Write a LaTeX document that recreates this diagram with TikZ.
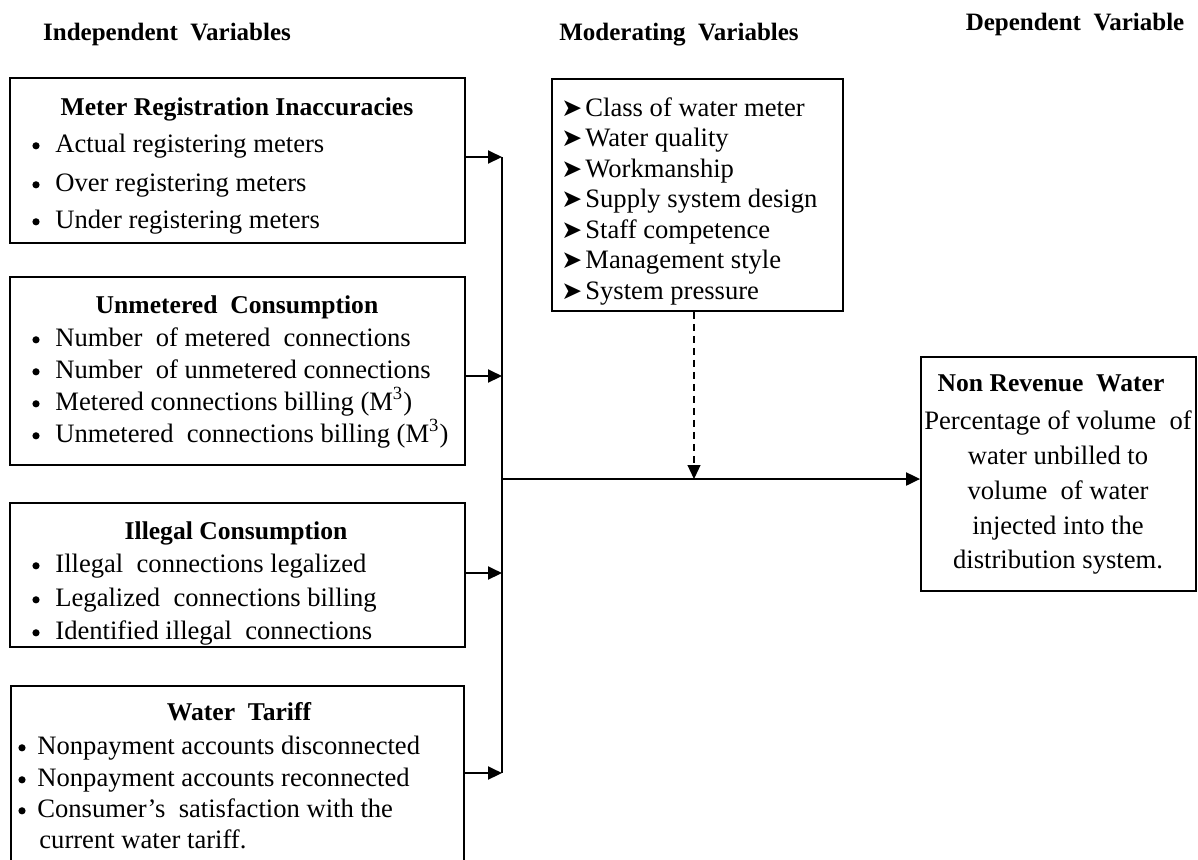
\documentclass[tikz,border=0pt]{standalone}
\usepackage{fontspec}
\setmainfont{Liberation Serif}
\newfontfamily\symfont{DejaVu Sans}
\usetikzlibrary{arrows.meta}
\tikzset{
  box/.style={draw, line width=0.9pt, inner sep=0pt},
  head/.style={font=\fontsize{12.5}{15}\selectfont\bfseries, inner sep=0pt, text height=8.5pt, text depth=0pt},
  ttl/.style={font=\fontsize{12.8}{15}\selectfont\bfseries, inner sep=0pt, text height=8.7pt, text depth=0pt},
  txt/.style={font=\fontsize{13.3}{16}\selectfont, inner sep=0pt, anchor=west, text height=9pt, text depth=0pt},
  ctxt/.style={font=\fontsize{13.3}{16}\selectfont, inner sep=0pt, text height=9pt, text depth=0pt},
  bul/.style={circle, fill, inner sep=0pt, minimum size=3.6pt, yshift=-1.4pt},
  arr/.style={font=\fontsize{12.5}{14}\symfont, inner sep=0pt, anchor=west, text height=9pt, text depth=0pt},
  conn/.style={line width=1pt, -{Triangle[length=7pt,width=6.5pt]}},
  bus/.style={line width=1pt},
  dconn/.style={line width=0.6pt, dash pattern=on 3.5pt off 2.5pt, -{Triangle[length=7pt,width=6.5pt]}}
}
\begin{document}
\begin{tikzpicture}[x=0.5pt, y=-0.5pt]
\useasboundingbox (0,0) rectangle (1198,859);
\clip (0,0) rectangle (1198,859);

% headings
\node[head] (hI) at (167,32) {Independent\ \ Variables};
\node[head] (hM) at (679,32) {Moderating\ \ Variables};
\node[head] (hD) at (1075,22) {Dependent\ \ Variable};

% box 1
\node[box, minimum width=227.5pt, minimum height=82.5pt] (b1) at (237.5,160.5) {};
\node[ttl] (t1) at (237,107) {Meter Registration Inaccuracies};
\node[bul] (u11) at (36,143) {};
\node[txt] (x11) at (55,143) {Actual registering meters};
\node[bul] (u12) at (36,182) {};
\node[txt] (x12) at (55,182) {Over registering meters};
\node[bul] (u13) at (36,219) {};
\node[txt] (x13) at (55,219) {Under registering meters};

% box 2
\node[box, minimum width=227.5pt, minimum height=94pt] (b2) at (237.5,371) {};
\node[ttl] (t2) at (237,305) {Unmetered\ \ Consumption};
\node[bul] (u21) at (36,337) {};
\node[txt] (x21) at (55,337) {Number\ \ of metered\ \ connections};
\node[bul] (u22) at (36,369) {};
\node[txt] (x22) at (55,369) {Number\ \ of unmetered connections};
\node[bul] (u23) at (36,401) {};
\node[txt] (x23) at (55,401) {Metered connections billing (M\textsuperscript{3})};
\node[bul] (u24) at (36,433) {};
\node[txt] (x24) at (55,433) {Unmetered\ \ connections billing (M\textsuperscript{3})};

% box 3
\node[box, minimum width=227.5pt, minimum height=72pt] (b3) at (237.5,575) {};
\node[ttl] (t3) at (236,531) {Illegal Consumption};
\node[bul] (u31) at (36,563) {};
\node[txt] (x31) at (55,563) {Illegal\ \ connections legalized};
\node[bul] (u32) at (36,597) {};
\node[txt] (x32) at (55,597) {Legalized\ \ connections billing};
\node[bul] (u33) at (36,630) {};
\node[txt] (x33) at (55,630) {Identified illegal\ \ connections};

% box 4
\node[box, minimum width=226.5pt, minimum height=107pt] (b4) at (237.5,793) {};
\node[ttl] (t4) at (239,712) {Water\ \ Tariff};
\node[bul] (u41) at (22,745) {};
\node[txt] (x41) at (37,745) {Nonpayment accounts disconnected};
\node[bul] (u42) at (22,777) {};
\node[txt] (x42) at (37,777) {Nonpayment accounts reconnected};
\node[bul] (u43) at (22,808) {};
\node[txt] (x43) at (37,808) {Consumer’s\ \ satisfaction with the};
\node[txt] (x44) at (39,839) {current water tariff.};

% moderating box
\node[box, minimum width=145.5pt, minimum height=116pt] (mod) at (697.5,195) {};
\node[arr] (a1) at (561,107) {➤};
\node[txt] (m1) at (585,107) {Class of water meter};
\node[arr] (a2) at (561,137.5) {➤};
\node[txt] (m2) at (585,137.5) {Water quality};
\node[arr] (a3) at (561,168) {➤};
\node[txt] (m3) at (585,168) {Workmanship};
\node[arr] (a4) at (561,198.5) {➤};
\node[txt] (m4) at (585,198.5) {Supply system design};
\node[arr] (a5) at (561,229) {➤};
\node[txt] (m5) at (585,229) {Staff competence};
\node[arr] (a6) at (561,259.5) {➤};
\node[txt] (m6) at (585,259.5) {Management style};
\node[arr] (a7) at (561,290) {➤};
\node[txt] (m7) at (585,290) {System pressure};

% dependent box
\node[box, minimum width=137.5pt, minimum height=117pt] (nrw) at (1058.5,474) {};
\node[ttl] (tn) at (1051,383) {Non Revenue\ \ Water};
\node[ctxt] (n1) at (1058,420) {Percentage of volume\ \ of};
\node[ctxt] (n2) at (1058,455) {water unbilled to};
\node[ctxt] (n3) at (1058,490) {volume\ \ of water};
\node[ctxt] (n4) at (1058,525) {injected into the};
\node[ctxt] (n5) at (1058,559) {distribution system.};

% connectors
\coordinate (j1) at (502,157);
\coordinate (j2) at (502,376);
\coordinate (j3) at (502,573);
\coordinate (j4) at (502,773);
\coordinate (jm) at (502,479);
\coordinate (dm) at (694,479);
\draw[conn] (b1.east |- j1) -- (j1);
\draw[conn] (b2.east |- j2) -- (j2);
\draw[conn] (b3.east |- j3) -- (j3);
\draw[conn] (b4.east |- j4) -- (j4);
\draw[bus] (j1) -- (j4);
\draw[conn] (jm) -- (nrw.west |- jm);
\draw[dconn] (mod.south -| dm) -- (dm);
\end{tikzpicture}
\end{document}
